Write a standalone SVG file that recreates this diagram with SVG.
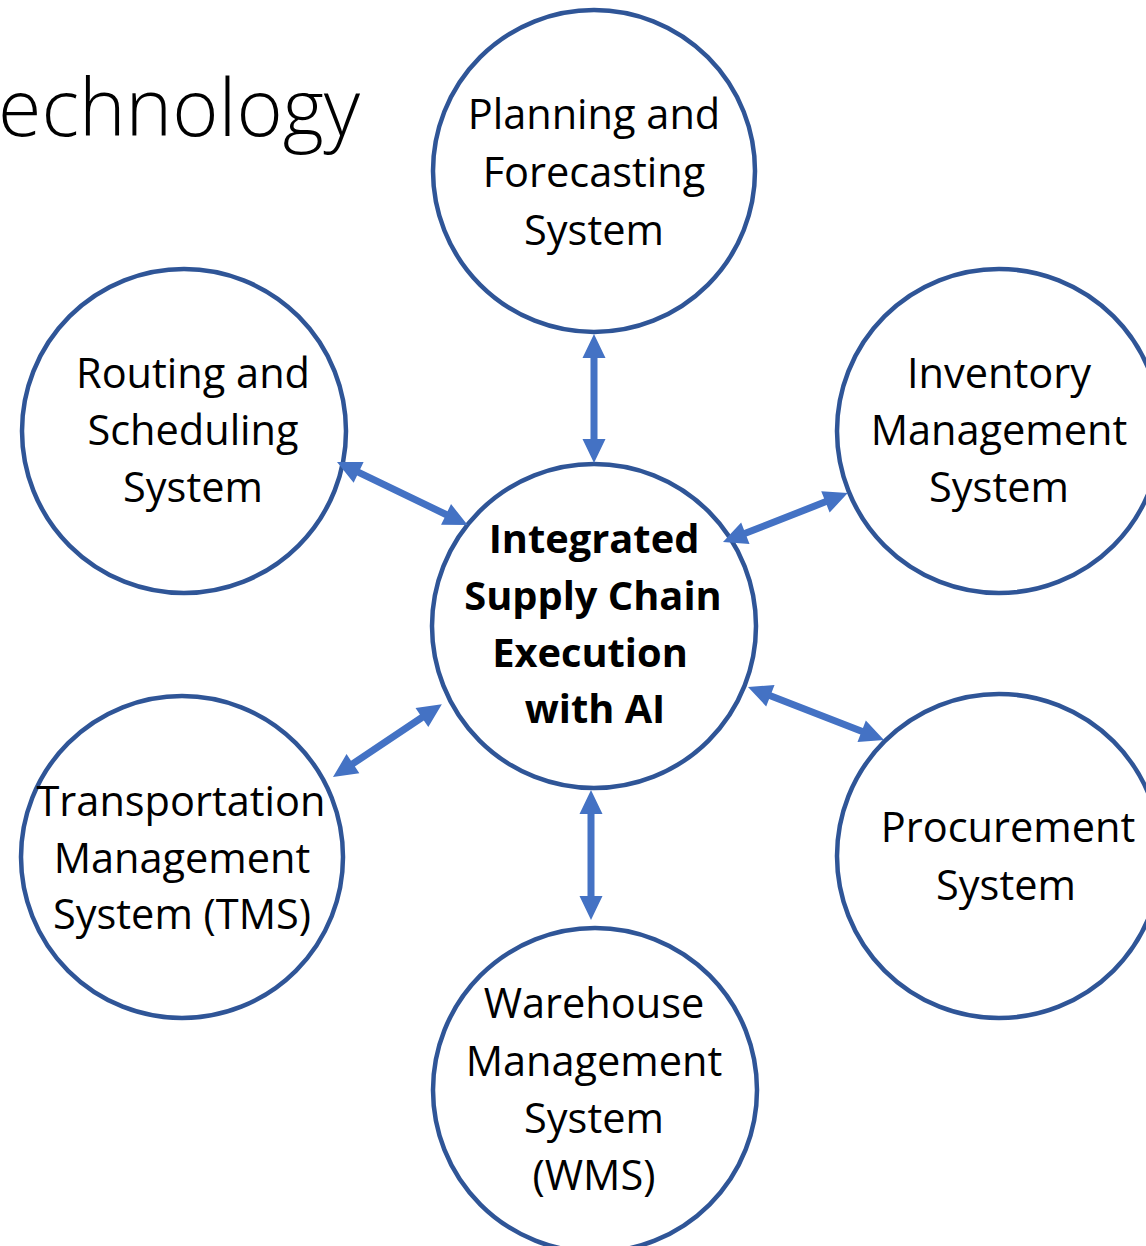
<svg xmlns="http://www.w3.org/2000/svg" width="1146" height="1246" viewBox="0 0 1146 1246">
  <style>
    .node circle { fill: #FFFFFF; stroke: #2F5597; stroke-width: 4.5; }
    .label { font-family: "Open Sans", "Noto Sans", "Liberation Sans", sans-serif; font-size: 41.5px; fill: #000000; text-anchor: middle; }
    .hub { font-weight: 700; font-size: 39.8px; }
    .title { font-family: "Open Sans", "Noto Sans", "Liberation Sans", sans-serif; font-weight: 300; font-size: 79px; fill: #000000; }
    .link { fill: #4472C4; }
  </style>

  <rect width="1146" height="1246" fill="#FFFFFF"/>

  <text class="title" x="-2" y="136">echnology</text>

  <g id="node-planning" class="node">
    <circle cx="594" cy="171" r="161"/>
    <text class="label" x="594" y="129">Planning and</text>
    <text class="label" x="594" y="187">Forecasting</text>
    <text class="label" x="594" y="245">System</text>
  </g>

  <g id="node-routing" class="node">
    <circle cx="184" cy="431" r="162"/>
    <text class="label" x="193" y="388">Routing and</text>
    <text class="label" x="193" y="445">Scheduling</text>
    <text class="label" x="193" y="502">System</text>
  </g>

  <g id="node-inventory" class="node">
    <circle cx="999" cy="431" r="162"/>
    <text class="label" x="999" y="388">Inventory</text>
    <text class="label" x="999" y="445">Management</text>
    <text class="label" x="999" y="502">System</text>
  </g>

  <g id="node-hub" class="node">
    <circle cx="594" cy="626" r="162"/>
    <text class="label hub" x="594" y="553">Integrated</text>
    <text class="label hub" x="593" y="610">Supply Chain</text>
    <text class="label hub" x="590" y="667">Execution</text>
    <text class="label hub" x="595" y="723">with AI</text>
  </g>

  <g id="node-transportation" class="node">
    <circle cx="182" cy="857" r="161"/>
    <text class="label" x="181" y="816">Transportation</text>
    <text class="label" x="182" y="873">Management</text>
    <text class="label" x="182" y="929">System (TMS)</text>
  </g>

  <g id="node-procurement" class="node">
    <circle cx="999" cy="856" r="162"/>
    <text class="label" x="1008" y="842">Procurement</text>
    <text class="label" x="1006" y="900">System</text>
  </g>

  <g id="node-warehouse" class="node">
    <circle cx="595" cy="1090" r="162"/>
    <text class="label" x="594" y="1018">Warehouse</text>
    <text class="label" x="594" y="1076">Management</text>
    <text class="label" x="594" y="1133">System</text>
    <text class="label" x="594" y="1190">(WMS)</text>
  </g>

  <!-- double-headed arrows drawn along +x, then placed: head 24 long, 23 wide, shaft 7 wide -->
  <g id="connectors" class="link">
    <!-- hub <-> planning -->
    <path transform="translate(594,334) rotate(90)" d="M0,0 L24,-11.5 L24,-3.5 L105,-3.5 L105,-11.5 L129,0 L105,11.5 L105,3.5 L24,3.5 L24,11.5 Z"/>
    <!-- hub <-> routing -->
    <path transform="translate(337,462) rotate(25.7)" d="M0,0 L24,-11.5 L24,-3.5 L121,-3.5 L121,-11.5 L145,0 L121,11.5 L121,3.5 L24,3.5 L24,11.5 Z"/>
    <!-- hub <-> inventory -->
    <path transform="translate(723,542) rotate(-21.4)" d="M0,0 L24,-11.5 L24,-3.5 L110,-3.5 L110,-11.5 L134,0 L110,11.5 L110,3.5 L24,3.5 L24,11.5 Z"/>
    <!-- hub <-> procurement -->
    <path transform="translate(748,687) rotate(21.3)" d="M0,0 L24,-11.5 L24,-3.5 L122,-3.5 L122,-11.5 L146,0 L122,11.5 L122,3.5 L24,3.5 L24,11.5 Z"/>
    <!-- hub <-> transportation -->
    <path transform="translate(333,777) rotate(-33.8)" d="M0,0 L24,-11.5 L24,-3.5 L107,-3.5 L107,-11.5 L131,0 L107,11.5 L107,3.5 L24,3.5 L24,11.5 Z"/>
    <!-- hub <-> warehouse -->
    <path transform="translate(591,790) rotate(90)" d="M0,0 L24,-11.5 L24,-3.5 L106,-3.5 L106,-11.5 L130,0 L106,11.5 L106,3.5 L24,3.5 L24,11.5 Z"/>
  </g>
</svg>
